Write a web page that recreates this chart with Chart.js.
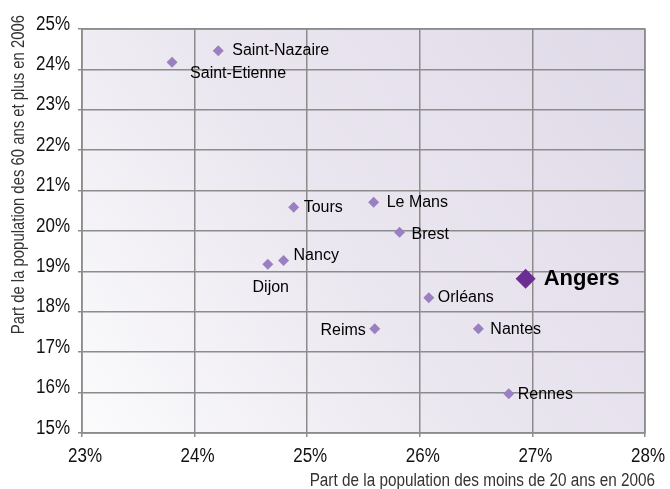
<!DOCTYPE html>
<html><head><meta charset="utf-8">
<script src="https://cdn.jsdelivr.net/npm/chart.js@4"></script>
<style>html,body{margin:0;padding:0;background:#fff}#wrap{width:670px;height:489px}</style>
</head><body><div id="wrap"><canvas id="c"></canvas></div>
<script>
const cities = ["Saint-Nazaire","Saint-Etienne","Tours","Le Mans","Brest","Nancy","Dijon","Orléans","Reims","Nantes","Rennes"];
const under20 = [24.21,23.80,24.88,25.59,25.82,24.79,24.65,26.08,25.60,26.52,26.79];
const over60  = [24.46,24.18,20.59,20.71,19.97,19.27,19.18,18.35,17.58,17.58,15.97];
const focusName = ["Angers"];
const focusUnder20 = [26.94];
const focusOver60 = [18.82];
const xTicks = [23,24,25,26,27,28];
const yTicks = [15,16,17,18,19,20,21,22,23,24,25];
const xTitle = 'Part de la population des moins de 20 ans en 2006';
const yTitle = 'Part de la population des 60 ans et plus en 2006';

// label placement (style only)
const labelStyle = {
  "Saint-Nazaire":{dx:14,dy:0,align:"left"},
  "Saint-Etienne":{dx:18,dy:11,align:"left"},
  "Tours":{dx:10,dy:0,align:"left"},
  "Le Mans":{dx:13,dy:0,align:"left"},
  "Brest":{dx:12,dy:2,align:"left"},
  "Nancy":{dx:10,dy:-5,align:"left"},
  "Dijon":{dx:3,dy:23,align:"center"},
  "Orléans":{dx:9,dy:0,align:"left"},
  "Reims":{dx:-9,dy:2,align:"right"},
  "Nantes":{dx:12,dy:1,align:"left"},
  "Rennes":{dx:9,dy:1,align:"left"},
  "Angers":{dx:18,dy:0,align:"left"}
};

const NARROW = 0.85;
function narrowText(ctx, text, x, y, align, font, color, rot){
  ctx.save();
  ctx.translate(x,y);
  if (rot) ctx.rotate(rot);
  ctx.scale(NARROW,1);
  ctx.font = font; ctx.fillStyle = color;
  ctx.textAlign = align; ctx.textBaseline = 'middle';
  ctx.fillText(text,0,0);
  ctx.restore();
}

const bgPlugin = {
  id:'bg',
  beforeDraw(chart){
    const {ctx, chartArea:a} = chart;
    const g = ctx.createLinearGradient(a.left, a.bottom, a.right, a.top);
    g.addColorStop(0,'#fbfbfc');
    g.addColorStop(0.45,'#ebe7f0');
    g.addColorStop(1,'#e0dae8');
    ctx.save(); ctx.fillStyle=g; ctx.fillRect(a.left,a.top,a.right-a.left,a.bottom-a.top); ctx.restore();
  }
};
const borderPlugin = {
  id:'border',
  beforeDatasetsDraw(chart){
    const {ctx, chartArea:a} = chart;
    ctx.save(); ctx.strokeStyle='#8c8c8c'; ctx.lineWidth=1.5;
    ctx.strokeRect(a.left,a.top,a.right-a.left,a.bottom-a.top); ctx.restore();
  }
};
const axisTextPlugin = {
  id:'axisText',
  afterDraw(chart){
    const ctx = chart.ctx;
    const xs = chart.scales.x, ys = chart.scales.y;
    const tf = '20px "Liberation Sans", Arial, sans-serif';
    xs.ticks.forEach(t=>{
      narrowText(ctx, t.value+'%', xs.getPixelForValue(t.value)+3, 456, 'center', tf, '#111');
    });
    ys.ticks.forEach(t=>{
      narrowText(ctx, t.value+'%', 70, ys.getPixelForValue(t.value)-5, 'right', tf, '#111');
    });
    narrowText(ctx, xTitle, 655, 481, 'right', '18px "Liberation Sans", Arial, sans-serif', '#333');
    narrowText(ctx, yTitle, 19, 15, 'right', '17.5px "Liberation Sans", Arial, sans-serif', '#333', -Math.PI/2);
  }
};
const labelPlugin = {
  id:'labels',
  afterDatasetsDraw(chart){
    const ctx = chart.ctx;
    chart.data.datasets.forEach((ds,di)=>{
      const meta = chart.getDatasetMeta(di);
      meta.data.forEach((el,i)=>{
        const name = ds.names[i];
        const s = labelStyle[name] || {dx:10,dy:0,align:'left'};
        ctx.save();
        ctx.font = ds.bold ? 'bold 22px "Liberation Sans", Arial, sans-serif' : '16px "Liberation Sans", Arial, sans-serif';
        ctx.fillStyle = '#000';
        ctx.textAlign = s.align; ctx.textBaseline='middle';
        ctx.fillText(name, el.x + s.dx, el.y + s.dy);
        ctx.restore();
      });
    });
  }
};

new Chart(document.getElementById('c'), {
  type:'scatter',
  data:{
    datasets:[
      {names:cities, data:cities.map((c,i)=>({x:under20[i],y:over60[i]})), pointStyle:'rectRot', radius:5.5, hoverRadius:5.5,
       backgroundColor:'#9a80c0', borderColor:'#9a80c0', borderWidth:0},
      {names:focusName, bold:true, data:focusName.map((c,i)=>({x:focusUnder20[i],y:focusOver60[i]})), pointStyle:'rectRot', radius:10, hoverRadius:10,
       backgroundColor:'#6a2d92', borderColor:'#6a2d92', borderWidth:0}
    ]
  },
  options:{
    responsive:true, maintainAspectRatio:false, animation:false,
    layout:{padding:{left:0,right:25,top:29,bottom:0}},
    plugins:{legend:{display:false}, tooltip:{enabled:false}},
    scales:{
      x:{type:'linear', min:23, max:28,
        afterBuildTicks(ax){ax.ticks = xTicks.map(v=>({value:v}));},
        afterFit(ax){ax.height=56;},
        grid:{color:'#8c8c8c', lineWidth:1.5, tickLength:4, drawTicks:true},
        border:{display:false},
        ticks:{display:false}
      },
      y:{type:'linear', min:15, max:25,
        afterBuildTicks(ax){ax.ticks = yTicks.map(v=>({value:v}));},
        afterFit(ax){ax.width=82;},
        grid:{color:'#8c8c8c', lineWidth:1.5, tickLength:4, drawTicks:true},
        border:{display:false},
        ticks:{display:false}
      }
    }
  },
  plugins:[bgPlugin, borderPlugin, labelPlugin, axisTextPlugin]
});
</script></body></html>
